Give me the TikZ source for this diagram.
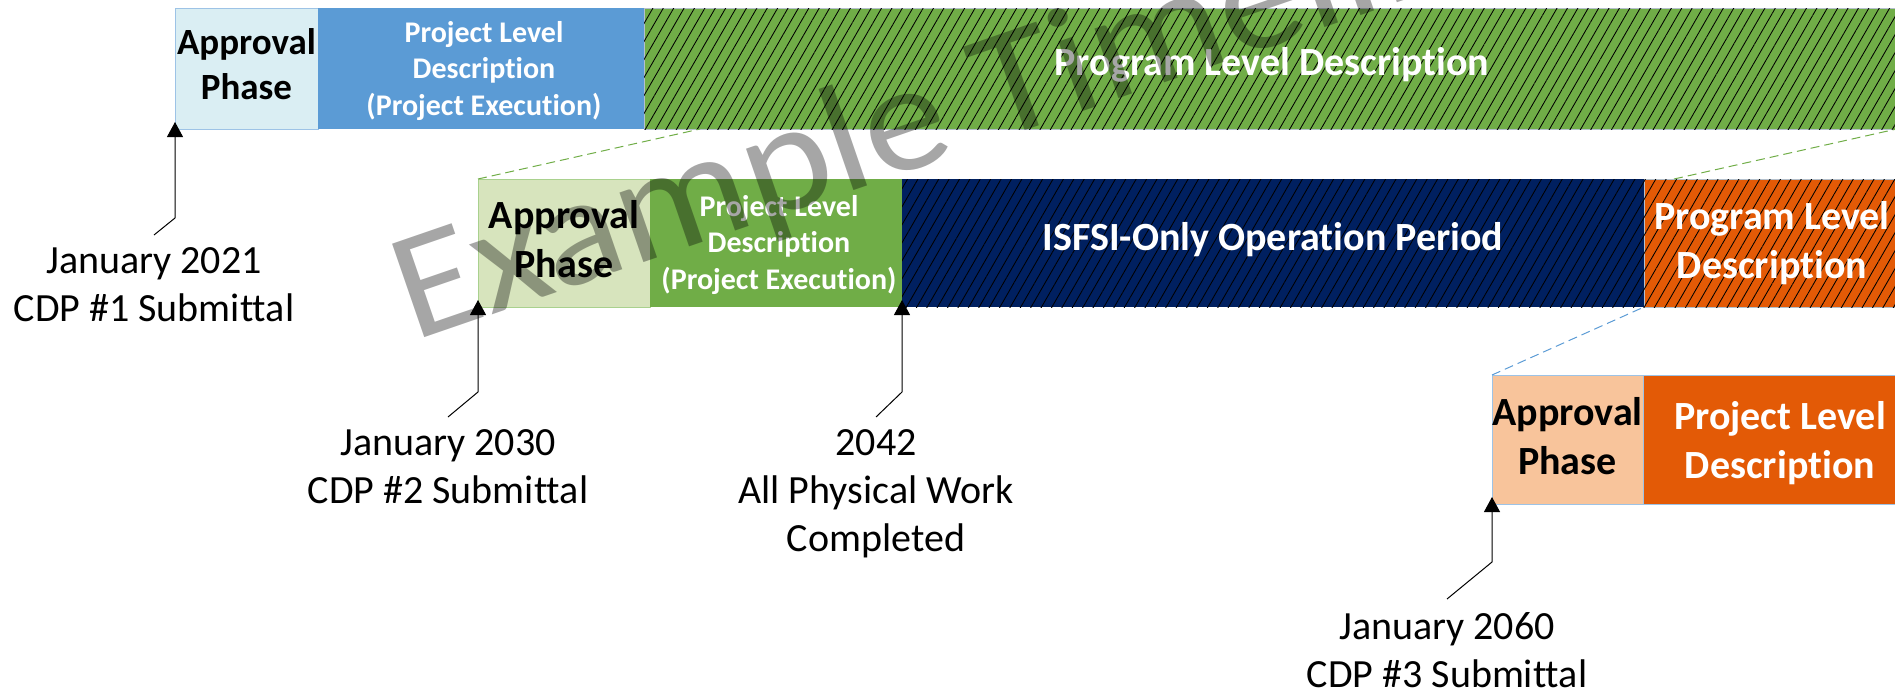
\documentclass[tikz,border=0pt]{standalone}
\usepackage{fontspec}
\setmainfont{Carlito}[Ligatures=NoCommon]
\usetikzlibrary{arrows.meta,patterns.meta,calc}
\definecolor{apBlue}{HTML}{DAEEF3}
\definecolor{prBlue}{HTML}{5B9BD5}
\definecolor{grn}{HTML}{70AD47}
\definecolor{apGrn}{HTML}{D7E4BD}
\definecolor{navy}{HTML}{002060}
\definecolor{org}{HTML}{E35A06}
\definecolor{apOrg}{HTML}{F8C49B}
\definecolor{edgeBlue}{HTML}{9DC3E6}
\definecolor{edgeGray}{HTML}{B4C0CC}
\definecolor{edgeGrn}{HTML}{A9D18E}
\begin{document}
\begin{tikzpicture}[x=1pt,y=-1pt,
  box/.style={rectangle,inner sep=0pt,outer sep=0pt,line width=1pt,anchor=north west},
  hatch/.style={postaction={pattern={Lines[angle=60,distance=9pt,line width=0.85pt]},pattern color=black}},
  bk/.style={align=center,inner sep=0pt,text=black},
  wh/.style={align=center,inner sep=0pt,text=white},
  fA/.style={font=\fontsize{37}{45}\selectfont\bfseries},
  fB/.style={font=\fontsize{40}{49}\selectfont\bfseries},
  fC/.style={font=\fontsize{30}{36.6}\selectfont\bfseries},
  date/.style={align=center,inner sep=0pt,outer sep=13pt,anchor=north,font=\fontsize{40}{48}\selectfont},
  arr/.style={line width=1pt,-{Triangle[width=16pt,length=15pt]},shorten >=-7pt},
  dgrn/.style={draw=grn,line width=1pt,dash pattern=on 9pt off 5pt},
  dblu/.style={draw=prBlue,line width=1pt,dash pattern=on 9pt off 5pt},
  wmark/.style={font=\fontsize{154}{185}\selectfont,text=black,text opacity=0.35,inner sep=0pt}
]
\clip (0,0) rectangle (1895,689);

% boxes
\node[box,fill=apBlue,draw=edgeBlue,minimum width=143pt,minimum height=121pt] (a1) at (175,8) {};
\node[box,fill=prBlue,minimum width=326pt,minimum height=121pt] (p1) at (318,8) {};
\node[box,fill=grn,draw=edgeGray,hatch,minimum width=1256pt,minimum height=121pt] (g1) at (644,8) {};

\node[box,fill=apGrn,draw=edgeGrn,minimum width=172pt,minimum height=128pt] (a2) at (478,179) {};
\node[box,fill=grn,minimum width=252pt,minimum height=128pt] (p2) at (650,179) {};
\node[box,fill=navy,hatch,minimum width=742pt,minimum height=128pt] (is) at (902,179) {};
\node[box,fill=org,draw=edgeGray,hatch,minimum width=256pt,minimum height=128pt] (o2) at (1644,179) {};

\node[box,fill=apOrg,draw=edgeBlue,minimum width=151pt,minimum height=129pt] (a3) at (1492,375) {};
\node[box,fill=org,draw=edgeBlue,minimum width=274pt,minimum height=129pt] (p3) at (1643,375) {};

% dashed zoom lines
\coordinate (gz) at ($(g1.south west)+(56,0)$);
\coordinate (oz) at ($(o2.north west)+(30,0)$);
\coordinate (ozEnd) at (1950,117);
\draw[dgrn] (a2.north west) -- (gz);
\draw[dgrn] (oz) -- (ozEnd);
\draw[dblu] (a3.north west) -- (o2.south west);

% box texts
\node[bk,fA] (t1) at ($(a1.center)+(0,-4.5)$) {Approval\\Phase};
\node[wh,fC] (t2) at ($(p1.center)+(3,2.5)$) {Project Level\\Description\\(Project Execution)};
\node[wh,fB] (t3) at ($(g1.center)+(0,-3.5)$) {Program Level Description};
\node[bk,fB] (t4) at ($(a2.center)+(0,-3.5)$) {Approval\\Phase};
\node[wh,fC] (t5) at ($(p2.center)+(3,2)$) {Project Level\\Description\\(Project Execution)};
\node[wh,fB] (t6) at ($(is.center)+(0,-3)$) {ISFSI-Only Operation Period};
\node[wh,fB] (t7) at (o2.center) {Program Level\\Description};
\node[bk,fB] (t8) at ($(a3.center)+(0,-3.5)$) {Approval\\Phase};
\node[wh,fB] (t9) at ($(p3.center)+(0,3.5)$) {Project Level\\Description};

% date labels
\node[date] (L1) at (154,235) {January 2021\\CDP \#1 Submittal};
\node[date] (L2) at (448,417) {January 2030\\CDP \#2 Submittal};
\node[date] (L3) at (876,417) {2042\\All Physical Work\\Completed};
\node[date] (L4) at (1447,599) {January 2060\\CDP \#3 Submittal};

\coordinate (b1) at (175,218);
\coordinate (b2) at (478,392);
\coordinate (b3) at (902,392);
\coordinate (b4) at (1492,562);
\draw[arr] (L1.north) -- (b1) -- (a1.south west);
\draw[arr] (L2.north) -- (b2) -- (a2.south west);
\draw[arr] (L3.north) -- (b3) -- (is.south west);
\draw[arr] (L4.north) -- (b4) -- (a3.south west);

% watermark
\node[wmark,rotate=19,xscale=1.09,anchor=base west] (wm) at (413,342) {Example Timeline};
\end{tikzpicture}
\end{document}
